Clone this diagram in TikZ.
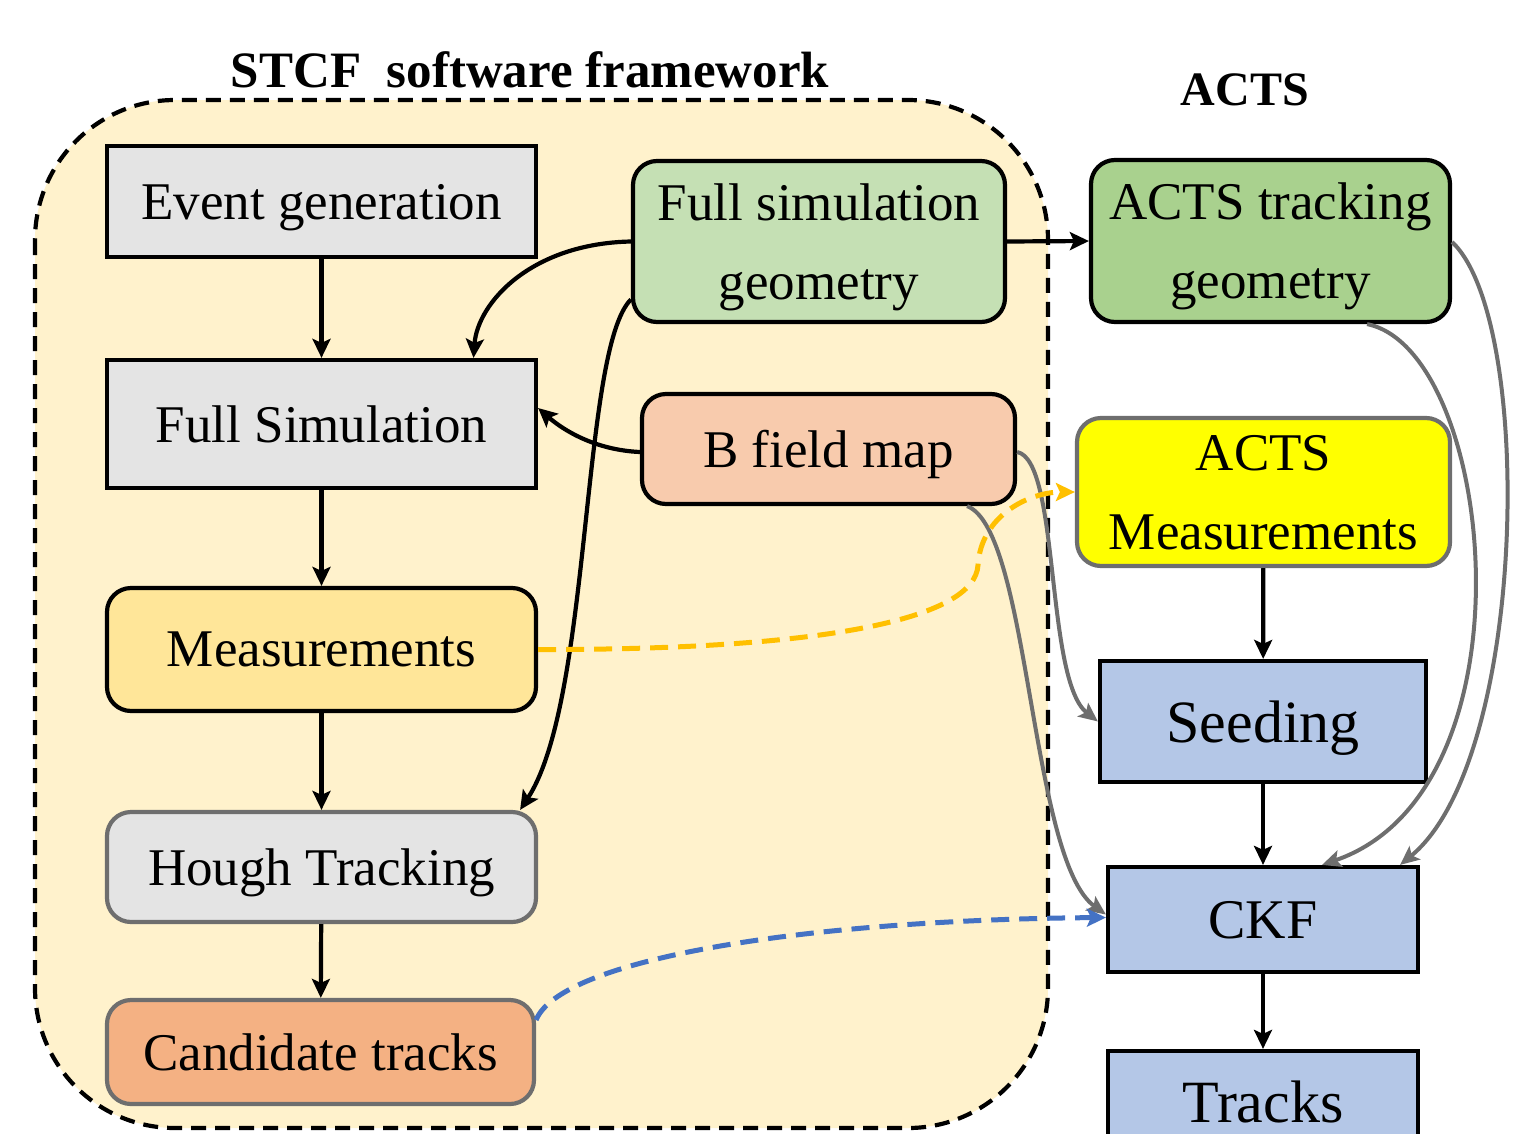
\documentclass[tikz,border=0pt]{standalone}
\usepackage{fontspec}
\setmainfont{Liberation Serif}
\usetikzlibrary{arrows.meta}
\definecolor{contfill}{HTML}{FFF2CC}
\definecolor{grayfill}{HTML}{E4E4E4}
\definecolor{measfill}{HTML}{FFE699}
\definecolor{candfill}{HTML}{F4B183}
\definecolor{fsgfill}{HTML}{C5E0B4}
\definecolor{bffill}{HTML}{F8CBAD}
\definecolor{atgfill}{HTML}{A9D18E}
\definecolor{amfill}{HTML}{FFFF00}
\definecolor{bluefill}{HTML}{B4C7E7}
\definecolor{grayline}{HTML}{6E6E6E}
\definecolor{orangeline}{HTML}{FFC000}
\definecolor{blueline}{HTML}{4472C4}
\tikzset{
  box/.style={draw=black, line width=4.2pt, inner sep=0pt, align=center,
    text depth=-6pt, font=\fontsize{53pt}{79pt}\selectfont},
  rbox/.style={box, rounded corners=24pt},
  bigbox/.style={box, font=\fontsize{60pt}{80pt}\selectfont},
  arr/.style={line width=4.2pt, -{Stealth[length=19pt,width=18pt,inset=4pt]}},
  garr/.style={line width=4pt, draw=grayline, -{Stealth[length=19pt,width=17pt,inset=4pt]}},
  dasharr/.style={line width=5pt, dash pattern=on 18pt off 10pt, -{Stealth[length=19pt,width=18pt,inset=4pt]}},
  titletext/.style={font=\fontsize{51pt}{60pt}\selectfont\bfseries, inner sep=0pt}
}
\begin{document}
\begin{tikzpicture}[x=1pt, y=-1pt]
\useasboundingbox (0,0) rectangle (1518,1133);
% container
\draw[fill=contfill, line width=4.2pt, dash pattern=on 15pt off 9pt, rounded corners=140pt]
  (35,100) rectangle (1048,1128);
\node[titletext] (title) at (530,70) {STCF\ \ software framework};
\node[titletext, font=\fontsize{48pt}{60pt}\selectfont\bfseries] (actstitle) at (1245,90) {ACTS};

% left column
\node[box, fill=grayfill, minimum width=429pt, minimum height=111pt] (eg) at (321.5,201.5) {Event generation};
\node[box, fill=grayfill, minimum width=429pt, minimum height=128pt] (fs) at (321.5,424) {Full Simulation};
\node[rbox, fill=measfill, minimum width=429pt, minimum height=123pt] (meas) at (321.5,649.5) {Measurements};
\node[rbox, draw=grayline, fill=grayfill, minimum width=429pt, minimum height=110pt] (hough) at (321.5,867) {Hough Tracking};
\node[rbox, draw=grayline, fill=candfill, minimum width=427pt, minimum height=104pt] (cand) at (320.5,1052) {Candidate tracks};

% middle
\node[rbox, fill=fsgfill, minimum width=372pt, minimum height=161pt] (fsg) at (819,241.5) {Full simulation\\geometry};
\node[rbox, fill=bffill, minimum width=373pt, minimum height=110pt] (bf) at (828.5,449) {B field map};

% right column
\node[rbox, fill=atgfill, minimum width=359pt, minimum height=162pt] (atg) at (1270.5,241) {ACTS tracking\\geometry};
\node[rbox, draw=grayline, fill=amfill, minimum width=373pt, minimum height=148pt] (am) at (1263.5,492) {ACTS\\Measurements};
\node[bigbox, fill=bluefill, minimum width=326pt, minimum height=121pt] (seed) at (1263,721.5) {Seeding};
\node[bigbox, font=\fontsize{56pt}{80pt}\selectfont, fill=bluefill, minimum width=310pt, minimum height=105pt] (ckf) at (1263,919.5) {CKF};
\node[bigbox, fill=bluefill, minimum width=310pt, minimum height=102pt] (tracks) at (1263,1102) {Tracks};

% straight arrows
\draw[arr] (eg) -- (fs);
\draw[arr] (fs) -- (meas);
\draw[arr] (meas) -- (hough);
\draw[arr] (hough) -- (cand);
\draw[arr] (fsg.east) -- (atg.west);
\draw[arr] (am) -- (seed);
\draw[arr] (seed) -- (ckf);
\draw[arr] (ckf) -- (tracks);

% curved black arrows
\draw[arr] (fsg.west) .. controls +(-100,2) and +(4,-55) .. ([xshift=152pt]fs.north);
\draw[arr] ([yshift=-58pt]fsg.west) .. controls +(-50,50) and +(72,-110) .. ([xshift=-18pt]hough.north east);
\draw[arr] ([yshift=-3pt]bf.west) .. controls +(-45,-2) and +(25,22) .. ([yshift=16pt]fs.east);

% gray arrows
\draw[garr] ([yshift=-1pt]atg.east) .. controls (1535,320) and (1528,760) .. ([xshift=-20pt]ckf.north east);
\draw[garr] ([xshift=-85pt]atg.south east) .. controls (1495,350) and (1540,790) .. ([xshift=59pt]ckf.north);
\draw[garr] ([yshift=-3pt]bf.east) .. controls (1060,460) and (1045,680) .. (seed.west);
\draw[garr] ([xshift=-50pt]bf.south east) .. controls (1030,530) and (1030,860) .. ([yshift=5pt]ckf.west);

% dashed arrows
\draw[dasharr, color=orangeline]
  (meas.east) .. controls (820,650) and (975,620) .. (978,565)
  .. controls (981,515) and (1030,492) .. (am.west);
\draw[dasharr, color=blueline]
  ([yshift=32pt]cand.east) .. controls (560,960) and (800,920) .. ([yshift=2pt]ckf.west);
\end{tikzpicture}
\end{document}
